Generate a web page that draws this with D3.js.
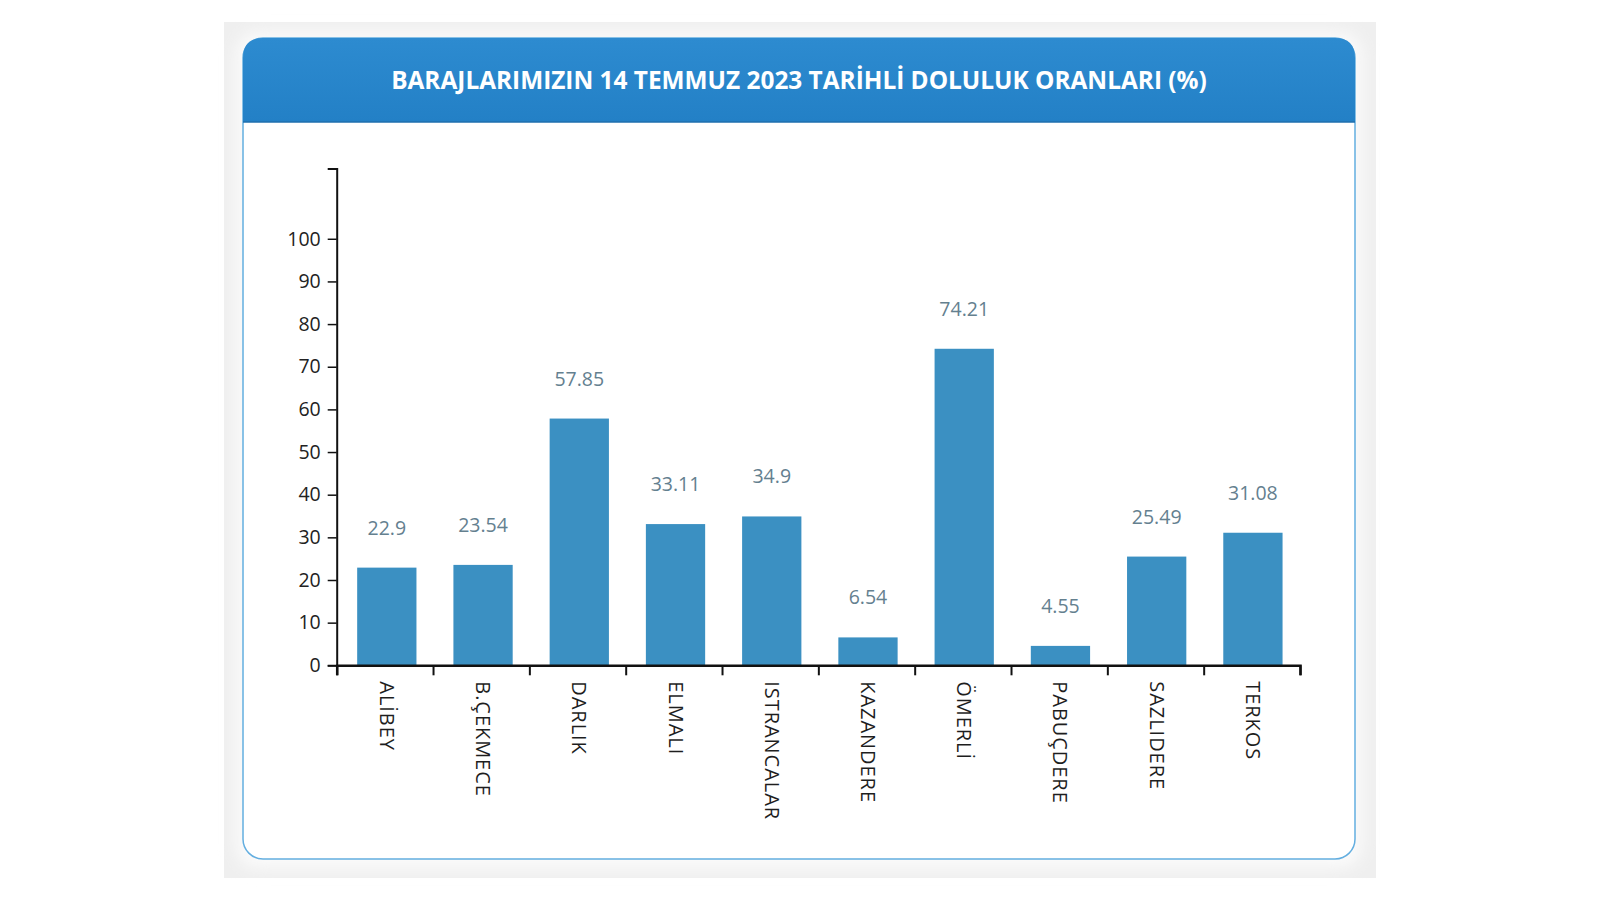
<!DOCTYPE html>
<html>
<head>
<meta charset="utf-8">
<script src="https://cdn.jsdelivr.net/npm/d3@7"></script>
<style>
  html, body { margin: 0; padding: 0; background: #ffffff; }
  svg { display: block; }
</style>
</head>
<body>
<svg id="chart" width="1600" height="900"></svg>
<script>
// ---- data ----
const titleText = "BARAJLARIMIZIN 14 TEMMUZ 2023 TARİHLİ DOLULUK ORANLARI (%)";
const categories = ["ALİBEY", "B.ÇEKMECE", "DARLIK", "ELMALI", "ISTRANCALAR", "KAZANDERE", "ÖMERLİ", "PABUÇDERE", "SAZLIDERE", "TERKOS"];
const values = [22.9, 23.54, 57.85, 33.11, 34.9, 6.54, 74.21, 4.55, 25.49, 31.08];
const valueLabels = ["22.9", "23.54", "57.85", "33.11", "34.9", "6.54", "74.21", "4.55", "25.49", "31.08"];
const yTicks = [0, 10, 20, 30, 40, 50, 60, 70, 80, 90, 100];
const yMax = 116.5;

// ---- layout ----
const svg = d3.select("#chart");
const defs = svg.append("defs");

const blur = defs.append("filter").attr("id", "soft").attr("x", "-10%").attr("y", "-10%").attr("width", "120%").attr("height", "120%");
blur.append("feGaussianBlur").attr("stdDeviation", 8);

const hdrGrad = defs.append("linearGradient").attr("id", "hdr").attr("x1", 0).attr("y1", 0).attr("x2", 0).attr("y2", 1);
hdrGrad.append("stop").attr("offset", "0%").attr("stop-color", "#2d8bd0");
hdrGrad.append("stop").attr("offset", "100%").attr("stop-color", "#2380c6");

// outer grey panel
svg.append("rect").attr("x", 224).attr("y", 22).attr("width", 1152).attr("height", 856).attr("fill", "#efefef");
// soft white glow around card
svg.append("rect").attr("x", 236).attr("y", 32).attr("width", 1126).attr("height", 836)
  .attr("rx", 22).attr("fill", "#fbfbfb").attr("filter", "url(#soft)");

const card = { x: 243, y: 38, w: 1112, h: 821, r: 20, hdrH: 84 };
// card body
svg.append("rect").attr("x", card.x).attr("y", card.y).attr("width", card.w).attr("height", card.h)
  .attr("rx", card.r).attr("fill", "#ffffff").attr("stroke", "#63aee0").attr("stroke-width", 1.5);
// header
const hx = card.x, hy = card.y, hw = card.w, hh = card.hdrH, r = card.r;
svg.append("path")
  .attr("d", `M${hx},${hy + hh} V${hy + r} Q${hx},${hy} ${hx + r},${hy} H${hx + hw - r} Q${hx + hw},${hy} ${hx + hw},${hy + r} V${hy + hh} Z`)
  .attr("fill", "url(#hdr)");
svg.append("line").attr("x1", hx).attr("x2", hx + hw).attr("y1", hy + hh).attr("y2", hy + hh)
  .attr("stroke", "#1f6fae").attr("stroke-width", 1.5);

svg.append("text")
  .attr("x", 799).attr("y", 88.5)
  .attr("text-anchor", "middle")
  .attr("fill", "#ffffff")
  .attr("font-family", "'Open Sans', sans-serif")
  .attr("font-weight", 700)
  .attr("font-size", 24.4)
  .text(titleText);

// ---- chart ----
const plot = { left: 336.7, right: 1300, top: 168.4, bottom: 665.3 };

const x = d3.scaleBand().domain(categories).range([plot.left, plot.right])
  .paddingInner(0.384).paddingOuter(0.197).align(0.54);
const y = d3.scaleLinear().domain([0, yMax]).range([plot.bottom, plot.top]);
const xEdges = d3.scaleLinear().domain([0, categories.length]).range([plot.left, plot.right]);

// bars
svg.append("g").selectAll("rect").data(values).join("rect")
  .attr("x", (d, i) => x(categories[i]))
  .attr("y", d => y(d))
  .attr("width", x.bandwidth())
  .attr("height", d => y(0) - y(d))
  .attr("fill", "#3b90c2");

// value labels
svg.append("g").selectAll("text").data(values).join("text")
  .attr("x", (d, i) => x(categories[i]) + x.bandwidth() / 2)
  .attr("y", d => y(d) - 33)
  .attr("text-anchor", "middle")
  .attr("fill", "#64808f")
  .attr("font-family", "'Open Sans', sans-serif")
  .attr("font-size", 19.5)
  .text((d, i) => valueLabels[i]);

// y axis
const yAxis = svg.append("g").attr("transform", `translate(${plot.left},0)`)
  .call(d3.axisLeft(y).tickValues(yTicks).tickSize(9).tickSizeOuter(9).tickPadding(7));
yAxis.select(".domain").attr("stroke", "#111").attr("stroke-width", 2);
yAxis.selectAll(".tick line").attr("stroke", "#111").attr("stroke-width", 1.5);
yAxis.selectAll(".tick text").attr("fill", "#222").attr("font-family", "'Open Sans', sans-serif").attr("font-size", 19.5);

// x axis boundary ticks
const xAxis = svg.append("g").attr("transform", `translate(0,${plot.bottom})`)
  .call(d3.axisBottom(xEdges).ticks(categories.length).tickSize(10).tickSizeOuter(10).tickFormat(""));
xAxis.select(".domain").attr("stroke", "#111").attr("stroke-width", 2.5);
xAxis.selectAll(".tick line").attr("stroke", "#111").attr("stroke-width", 2);

// x category labels (rotated)
const xLab = svg.append("g").attr("transform", `translate(0,${plot.bottom})`)
  .call(d3.axisBottom(x).tickSize(0).tickPadding(0));
xLab.select(".domain").remove();
xLab.selectAll(".tick text")
  .attr("transform", "rotate(90)")
  .attr("x", 16).attr("y", 0).attr("dy", "0.35em")
  .attr("text-anchor", "start")
  .attr("fill", "#1e1e1e")
  .attr("font-family", "'Open Sans', sans-serif")
  .attr("font-size", 20)
  .attr("letter-spacing", 0.95);
</script>
</body>
</html>
